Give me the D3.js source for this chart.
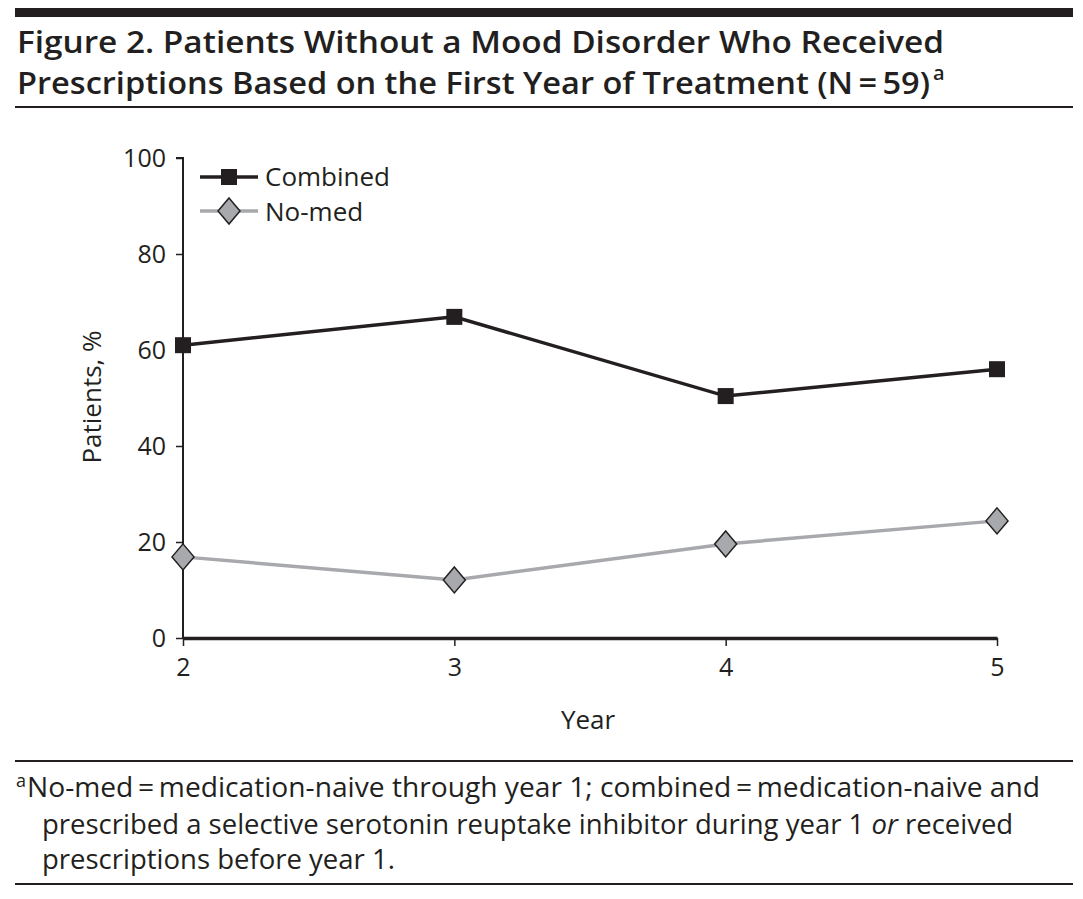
<!DOCTYPE html>
<html>
<head>
<meta charset="utf-8">
<script src="https://cdn.jsdelivr.net/npm/d3@7"></script>
<style>
  body { margin: 0; background: #fff; }
  svg { display: block; }
  text { fill: #231f20; }
</style>
</head>
<body>
<div id="chart"></div>
<script>
// data
const years = [2, 3, 4, 5];
const combined = [61.0, 66.9, 50.4, 56.0];
const noMed = [16.9, 12.1, 19.6, 24.4];
const yTicks = [0, 20, 40, 60, 80, 100];
const seriesNames = ['Combined', 'No-med'];
const titleLines = [
    'Figure 2. Patients Without a Mood Disorder Who Received',
    'Prescriptions Based on the First Year of Treatment (N\u2009=\u200959)'
];

const width = 1083, height = 899;
const ink = '#231f20';
const font = '"Open Sans", "Noto Sans", sans-serif';

const svg = d3.select('#chart').append('svg')
    .attr('width', width)
    .attr('height', height);

// rules
svg.append('rect').attr('x', 15).attr('y', 8).attr('width', 1058).attr('height', 9).attr('fill', ink);
svg.append('rect').attr('x', 15).attr('y', 106).attr('width', 1058).attr('height', 2).attr('fill', ink);
svg.append('rect').attr('x', 15).attr('y', 760).attr('width', 1058).attr('height', 2).attr('fill', ink);
svg.append('rect').attr('x', 15).attr('y', 883).attr('width', 1058).attr('height', 2).attr('fill', ink);

// title
const title = svg.append('g').attr('font-family', font).attr('font-weight', 600).attr('font-size', 31);
title.append('text').attr('x', 17).attr('y', 53).text(titleLines[0])
    .attr('textLength', 927).attr('lengthAdjust', 'spacingAndGlyphs');
title.append('text').attr('x', 17).attr('y', 94).text(titleLines[1])
    .attr('textLength', 913).attr('lengthAdjust', 'spacingAndGlyphs');
title.append('text').attr('x', 933).attr('y', 80).attr('font-size', 20).text('a');

// scales
const x = d3.scaleLinear().domain([2, 5]).range([183, 997]);
const y = d3.scaleLinear().domain([0, 100]).range([638, 158]);

// axes
const yAxis = svg.append('g').attr('transform', 'translate(183,0)')
    .call(d3.axisLeft(y).tickValues(yTicks).tickSize(7).tickPadding(10));
const xAxis = svg.append('g').attr('transform', 'translate(0,638)')
    .call(d3.axisBottom(x).tickValues(years).tickFormat(d3.format('d'))
        .tickSize(8).tickPadding(12).tickSizeOuter(0));
[yAxis, xAxis].forEach(a => {
    a.selectAll('text').attr('font-family', font).attr('font-size', 25).attr('fill', ink);
    a.selectAll('line').attr('stroke', ink).attr('stroke-width', 1.5);
});
yAxis.select('.domain').attr('stroke', ink).attr('stroke-width', 2).attr('d', `M-7,${y(100)}H0V${y(0)}`);
xAxis.select('.domain').attr('stroke', ink).attr('stroke-width', 3.5);

// axis labels
svg.append('text').attr('x', 588).attr('y', 729).attr('text-anchor', 'middle')
    .attr('font-family', font).attr('font-size', 26).text('Year');
svg.append('text').attr('transform', 'translate(101,397) rotate(-90)').attr('text-anchor', 'middle')
    .attr('font-family', font).attr('font-size', 26).text('Patients, %');

// lines
const line = d3.line().x((d, i) => x(years[i])).y(d => y(d));
svg.append('path').datum(noMed).attr('d', line)
    .attr('fill', 'none').attr('stroke', '#a7a9ac').attr('stroke-width', 3.5);
svg.append('path').datum(combined).attr('d', line)
    .attr('fill', 'none').attr('stroke', ink).attr('stroke-width', 3.5);

// markers
const sq = 16;
svg.selectAll('.sq').data(combined).enter().append('rect')
    .attr('x', (d, i) => x(years[i]) - sq / 2)
    .attr('y', d => y(d) - sq / 2)
    .attr('width', sq).attr('height', sq)
    .attr('fill', ink);
const diamond = 'M0,-13L11,0L0,13L-11,0Z';
svg.selectAll('.dm').data(noMed).enter().append('path')
    .attr('d', diamond)
    .attr('transform', (d, i) => `translate(${x(years[i])},${y(d)})`)
    .attr('fill', '#a7a9ac').attr('stroke', ink).attr('stroke-width', 1.5);

// legend
const lg = svg.append('g').attr('font-family', font).attr('font-size', 26);
lg.append('line').attr('x1', 200).attr('x2', 258).attr('y1', 177).attr('y2', 177)
    .attr('stroke', ink).attr('stroke-width', 3.5);
lg.append('rect').attr('x', 221).attr('y', 169).attr('width', sq).attr('height', sq).attr('fill', ink);
lg.append('text').attr('x', 265).attr('y', 186).text(seriesNames[0]);
lg.append('line').attr('x1', 200).attr('x2', 258).attr('y1', 211).attr('y2', 211)
    .attr('stroke', '#a7a9ac').attr('stroke-width', 3.5);
lg.append('path').attr('d', diamond).attr('transform', 'translate(229,211)')
    .attr('fill', '#a7a9ac').attr('stroke', ink).attr('stroke-width', 1.5);
lg.append('text').attr('x', 265).attr('y', 221).text(seriesNames[1]);

// footnote
const fn = svg.append('g').attr('font-family', font).attr('font-size', 27.5);
fn.append('text').attr('x', 16).attr('y', 787).attr('font-size', 18).text('a');
fn.append('text').attr('x', 27).attr('y', 797)
    .attr('textLength', 1013).attr('lengthAdjust', 'spacingAndGlyphs')
    .text('No-med\u2009=\u2009medication-naive through year 1; combined\u2009=\u2009medication-naive and');
const f2 = fn.append('text').attr('x', 42).attr('y', 834);
f2.append('tspan').text('prescribed a selective serotonin reuptake inhibitor during year 1 ');
f2.append('tspan').attr('font-style', 'italic').text('or');
f2.append('tspan').text(' received');
fn.append('text').attr('x', 42).attr('y', 869).text('prescriptions before year 1.');
</script>
</body>
</html>
